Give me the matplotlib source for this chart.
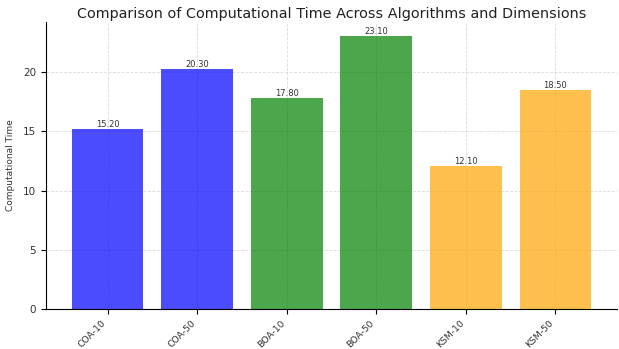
import matplotlib
matplotlib.use('Agg')
import matplotlib.pyplot as plt

labels = ['COA-10', 'COA-50', 'BOA-10', 'BOA-50', 'KSM-10', 'KSM-50']
times = [15.2, 20.3, 17.8, 23.1, 12.1, 18.5]
colors = ['blue', 'blue', 'green', 'green', 'orange', 'orange']

fig = plt.figure(figsize=(6.19, 3.49), dpi=100)
ax = fig.add_axes([0.074, 0.115, 0.923, 0.822])

bars = ax.bar(labels, times, color=colors, alpha=0.7)
for b, v in zip(bars, times):
	ax.text(b.get_x() + b.get_width()/2, v, '%.2f' % v, ha='center', va='bottom',
		fontsize=6, color='#333333')

ax.set_title('Comparison of Computational Time Across Algorithms and Dimensions',
	fontsize=10.4, color='#222222', pad=3)
ax.set_ylabel('Computational Time', fontsize=6.5, color='#333333', labelpad=6)
ax.set_xticks(range(len(labels)))
ax.set_xticklabels(labels, rotation=45, ha='right', fontsize=6.7, color='#333333')
ax.tick_params(axis='y', labelsize=7.5, labelcolor='#333333')
ax.grid(True, linestyle='--', linewidth=0.6, alpha=0.45)
ax.set_axisbelow(True)
ax.spines['top'].set_visible(False)
ax.spines['right'].set_visible(False)

plt.savefig('out.png')
